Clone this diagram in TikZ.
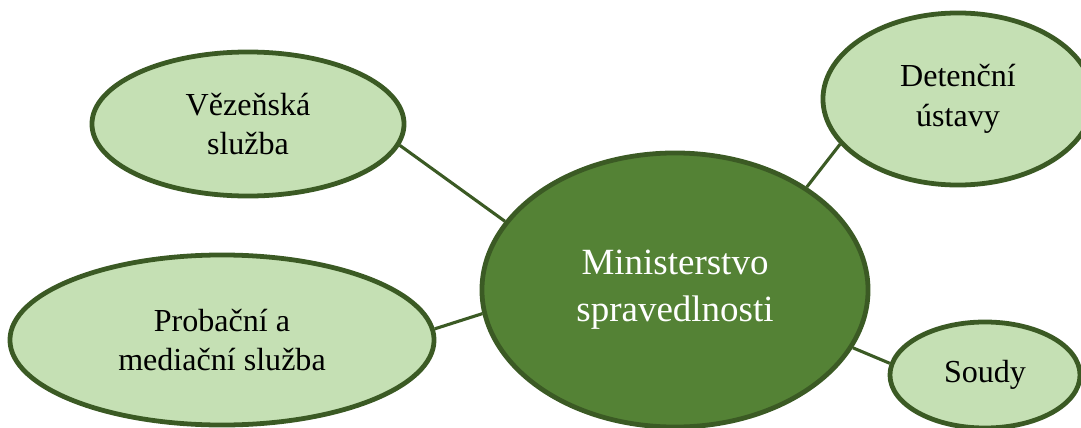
\documentclass[tikz,border=0pt]{standalone}
\usepackage{fontspec}
\setmainfont{Liberation Serif}
\definecolor{lightgreen}{HTML}{C5E0B4}
\definecolor{midgreen}{HTML}{548235}
\definecolor{darkgreen}{HTML}{3B5A24}
\tikzset{
  branch/.style={ellipse, draw=darkgreen, line width=3.4pt, fill=lightgreen,
    align=center, inner sep=0pt, font=\fontsize{22.8pt}{28.4pt}\selectfont},
  hub/.style={branch, fill=midgreen, text=white, font=\fontsize{26.3pt}{33.4pt}\selectfont},
  link/.style={draw=darkgreen, line width=2.2pt}
}
\usetikzlibrary{shapes.geometric}
\begin{document}
\begin{tikzpicture}[x=0.025cm, y=-0.025cm]
\useasboundingbox (0,0) rectangle (1081,428);
\clip (0,0) rectangle (1081,428);
\node [hub, minimum width=9.65cm, minimum height=6.85cm] (min) at (675,290) {Ministerstvo\\spravedlnosti};
\node [branch, minimum width=7.8cm, minimum height=3.6cm] (vez) at (248,124) {Vězeňská\\služba};
\node [branch, minimum width=6.75cm, minimum height=4.3cm] (det) at (958,99) {Detenční\\ústavy};
\node [branch, minimum width=10.6cm, minimum height=4.25cm] (prob) at (222,340) {Probační a\\mediační služba};
\node [branch, minimum width=4.75cm, minimum height=2.65cm] (soudy) at (985,375) {Soudy};
\draw [link] (vez.-8) -- (min.158);
\draw [link] (det.201) -- (min.38);
\draw [link] (prob.3) -- (min.187);
\draw [link] (soudy.173) -- (min.-18);
\end{tikzpicture}
\end{document}
